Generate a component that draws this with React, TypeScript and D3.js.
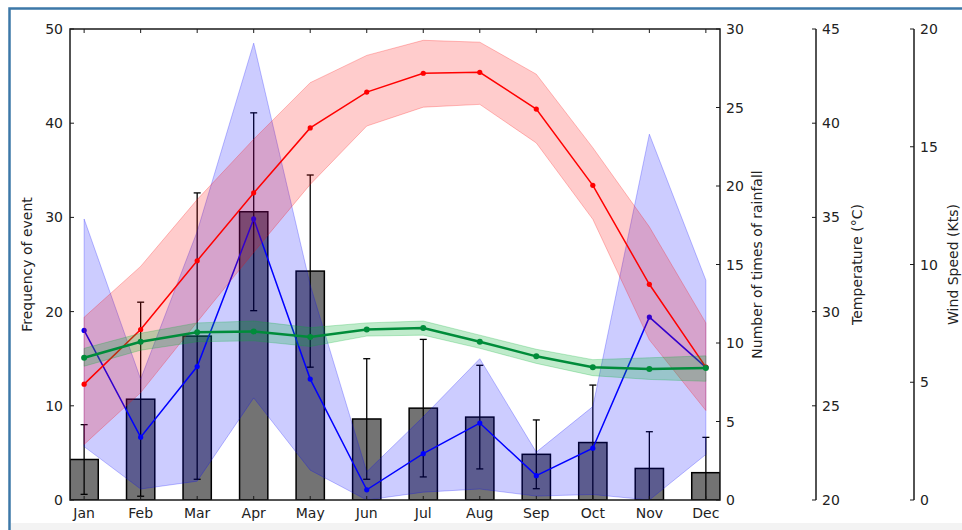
import React from "react";
import * as d3 from "d3";

const months = ["Jan", "Feb", "Mar", "Apr", "May", "Jun", "Jul", "Aug", "Sep", "Oct", "Nov", "Dec"];

// Frequency of event (bars, left axis) and its spread
const eventFreq = [4.3, 10.7, 17.4, 30.6, 24.3, 8.6, 9.75, 8.8, 4.85, 6.1, 3.35, 2.9];
const eventErr = [3.7, 10.3, 15.2, 10.5, 10.2, 6.4, 7.3, 5.5, 3.65, 6.1, 3.9, 3.75];

// Number of times of rainfall (blue, right axis 0-30)
const rainfall = [10.8, 4.0, 8.5, 17.9, 7.7, 0.65, 2.95, 4.9, 1.55, 3.3, 11.65, 8.45];
const rainfallHigh = [17.9, 7.7, 17.1, 29.1, 13.7, 1.8, 5.3, 9.0, 3.05, 5.95, 23.3, 14.0];
const rainfallLow = [3.4, 0.7, 1.2, 6.5, 1.9, 0, 0.5, 0.7, 0.25, 0.35, 0, 2.9];

// Temperature (red, 20-45 °C)
const temperature = [26.15, 29.05, 32.7, 36.3, 39.75, 41.65, 42.65, 42.7, 40.75, 36.7, 31.45, 27.05];
const temperatureHigh = [29.7, 32.4, 35.95, 39.15, 42.15, 43.6, 44.4, 44.3, 42.6, 38.7, 34.5, 29.4];
const temperatureLow = [22.95, 25.7, 29.45, 33.15, 36.75, 39.85, 40.85, 41.0, 38.95, 34.9, 28.5, 24.75];

// Wind speed (green, 0-20 Kts)
const windSpeed = [6.04, 6.72, 7.12, 7.16, 6.92, 7.24, 7.3, 6.72, 6.1, 5.64, 5.56, 5.6];
const windHigh = [6.44, 7.08, 7.52, 7.6, 7.32, 7.52, 7.6, 7.0, 6.4, 5.96, 6.04, 6.12];
const windLow = [5.68, 6.36, 6.72, 6.76, 6.52, 6.96, 7.0, 6.44, 5.8, 5.28, 5.12, 5.04];

const freqTicks = [0, 10, 20, 30, 40, 50];
const rainTicks = [0, 5, 10, 15, 20, 25, 30];
const tempTicks = [20, 25, 30, 35, 40, 45];
const windTicks = [0, 5, 10, 15, 20];

const W = 962;
const H = 530;
const L = 70, R = 720, T = 29, B = 500;
const TEMP_X = 816;
const WIND_X = 914;
const FONT = "DejaVu Sans, sans-serif";
const FS = 14;

export default function App() {
  const idx = months.map((_, i) => i);
  const x = d3.scaleLinear().domain([-0.25, 11.25]).range([L, R]);
  const yF = d3.scaleLinear().domain([0, 50]).range([B, T]);
  const yRain = d3.scaleLinear().domain([0, 30]).range([B, T]);
  const yTemp = d3.scaleLinear().domain([20, 45]).range([B, T]);
  const yWind = d3.scaleLinear().domain([0, 20]).range([B, T]);

  const band = (lo: number[], hi: number[], y: d3.ScaleLinear<number, number>) =>
    d3.area<number>().x((i) => x(i)).y0((i) => y(lo[i])).y1((i) => y(hi[i]))(idx) || "";
  const line = (v: number[], y: d3.ScaleLinear<number, number>) =>
    d3.line<number>().x((i) => x(i)).y((i) => y(v[i]))(idx) || "";

  const barW = x(0.25) - x(-0.25);
  const cap = 3.5;

  const series = [
    { v: rainfall, lo: rainfallLow, hi: rainfallHigh, y: yRain, c: "#0000ff", fill: "#0000ff", fo: 0.2, lw: 1.5 },
    { v: temperature, lo: temperatureLow, hi: temperatureHigh, y: yTemp, c: "#ff0000", fill: "#ff0000", fo: 0.2, lw: 1.5 },
    { v: windSpeed, lo: windLow, hi: windHigh, y: yWind, c: "#008c3a", fill: "#00b030", fo: 0.25, lw: 2.5 },
  ];

  const axisColor = "#1a1a1a";

  return (
    <svg width={W} height={H} style={{ position: "absolute", left: 0, top: 0, background: "#fff" }} fontFamily={FONT}>
      <defs>
        <clipPath id="plot">
          <rect x={L} y={T} width={R - L} height={B - T} />
        </clipPath>
      </defs>
      <rect x={0} y={0} width={W} height={H} fill="#ffffff" />
      <rect x={11} y={523} width={W} height={7} fill="#f3f3f3" />
      <path d={`M9.5,${H} V8.5 H${W}`} fill="none" stroke="#3d78a8" strokeWidth={2.5} />

      <g clipPath="url(#plot)">
        {idx.map((i) => (
          <rect key={"b" + i} x={x(i) - barW / 2} y={yF(eventFreq[i])} width={barW}
            height={B - yF(eventFreq[i])} fill="#737373" stroke="#000" strokeWidth={1.5} />
        ))}
        {idx.map((i) => {
          const lo = yF(eventFreq[i] - eventErr[i]);
          const hi = yF(eventFreq[i] + eventErr[i]);
          return (
            <g key={"e" + i} stroke="#000" strokeWidth={1.3}>
              <line x1={x(i)} x2={x(i)} y1={lo} y2={hi} />
              <line x1={x(i) - cap} x2={x(i) + cap} y1={hi} y2={hi} />
              <line x1={x(i) - cap} x2={x(i) + cap} y1={lo} y2={lo} />
            </g>
          );
        })}
        {series.map((s, k) => (
          <g key={"s" + k}>
            <path d={band(s.lo, s.hi, s.y)} fill={s.fill} fillOpacity={s.fo} stroke={s.fill} strokeOpacity={0.25} strokeWidth={1} />
            <path d={line(s.v, s.y)} fill="none" stroke={s.c} strokeWidth={s.lw} />
            {idx.map((i) => (
              <circle key={i} cx={x(i)} cy={s.y(s.v[i])} r={s.lw > 2 ? 3 : 2.6} fill={s.c} />
            ))}
          </g>
        ))}
      </g>

      {/* main axes frame */}
      <rect x={L} y={T} width={R - L} height={B - T} fill="none" stroke={axisColor} strokeWidth={1.5} />
      {idx.map((i) => (
        <g key={"xt" + i} stroke={axisColor} strokeWidth={1}>
          <line x1={x(i)} x2={x(i)} y1={T} y2={T + 4} />
          <line x1={x(i)} x2={x(i)} y1={B} y2={B - 4} />
        </g>
      ))}
      {idx.map((i) => (
        <text key={"xl" + i} x={x(i)} y={518} fontSize={FS} textAnchor="middle" fill="#222">{months[i]}</text>
      ))}

      {/* left axis */}
      {freqTicks.map((t) => (
        <g key={"lf" + t}>
          <line x1={L} x2={L + 4} y1={yF(t)} y2={yF(t)} stroke={axisColor} />
          <text x={L - 7} y={yF(t)} dy="0.36em" fontSize={FS} textAnchor="end" fill="#222">{t}</text>
        </g>
      ))}
      <text transform={`translate(32,${(T + B) / 2}) rotate(-90)`} fontSize={FS} textAnchor="middle" fill="#222">Frequency of event</text>

      {/* right axis: rainfall */}
      {rainTicks.map((t) => (
        <g key={"rt" + t}>
          <line x1={R} x2={R - 4} y1={yRain(t)} y2={yRain(t)} stroke={axisColor} />
          <text x={R + 6} y={yRain(t)} dy="0.36em" fontSize={FS} textAnchor="start" fill="#222">{t}</text>
        </g>
      ))}
      <text transform={`translate(762,${(T + B) / 2}) rotate(-90)`} fontSize={FS} textAnchor="middle" fill="#222">Number of times of rainfall</text>

      {/* temperature axis */}
      <line x1={TEMP_X} x2={TEMP_X} y1={T} y2={B} stroke={axisColor} strokeWidth={1.5} />
      {tempTicks.map((t) => (
        <g key={"tt" + t}>
          <line x1={TEMP_X} x2={TEMP_X - 4} y1={yTemp(t)} y2={yTemp(t)} stroke={axisColor} />
          <text x={TEMP_X + 6} y={yTemp(t)} dy="0.36em" fontSize={FS} textAnchor="start" fill="#222">{t}</text>
        </g>
      ))}
      <text transform={`translate(862,${(T + B) / 2}) rotate(-90)`} fontSize={FS} textAnchor="middle" fill="#222">Temperature (°C)</text>

      {/* wind axis */}
      <line x1={WIND_X} x2={WIND_X} y1={T} y2={B} stroke={axisColor} strokeWidth={1.5} />
      {windTicks.map((t) => (
        <g key={"wt" + t}>
          <line x1={WIND_X} x2={WIND_X - 4} y1={yWind(t)} y2={yWind(t)} stroke={axisColor} />
          <text x={WIND_X + 6} y={yWind(t)} dy="0.36em" fontSize={FS} textAnchor="start" fill="#222">{t}</text>
        </g>
      ))}
      <text transform={`translate(958,${(T + B) / 2}) rotate(-90)`} fontSize={FS} textAnchor="middle" fill="#222">Wind Speed (Kts)</text>
    </svg>
  );
}
